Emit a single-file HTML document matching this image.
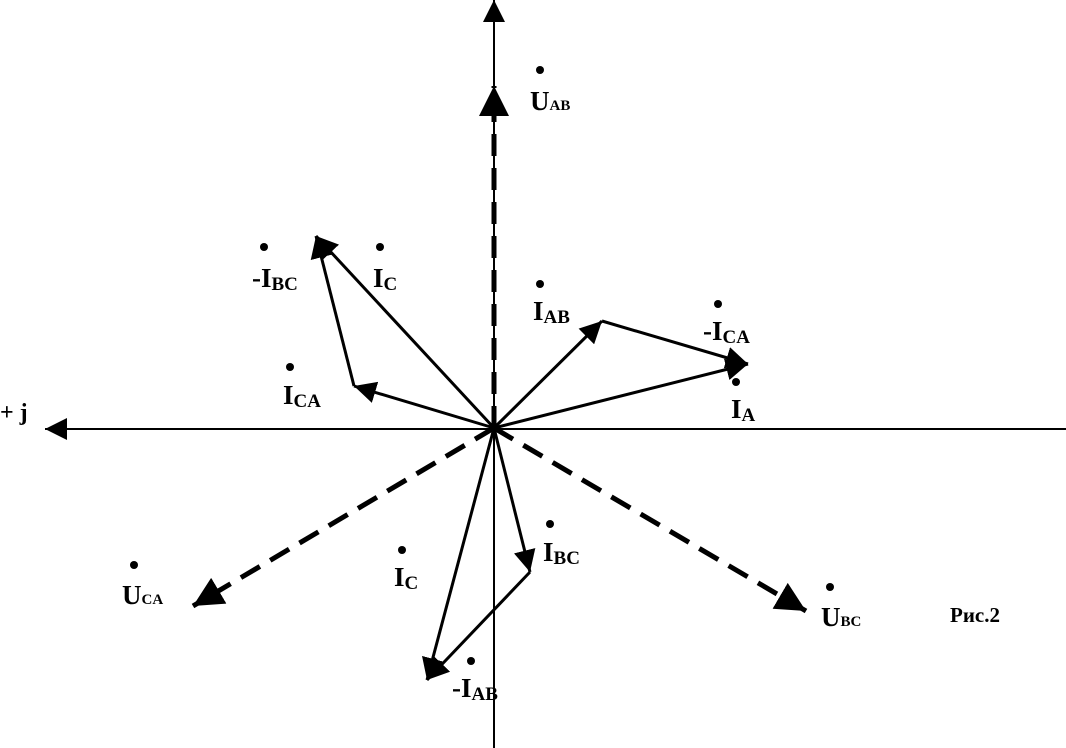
<!DOCTYPE html>
<html><head><meta charset="utf-8"><style>
html,body{margin:0;padding:0;background:#fff;}
svg{display:block;}
text{font-family:"Liberation Serif",serif;font-weight:bold;fill:#000;}
</style></head><body>
<svg width="1066" height="748" viewBox="0 0 1066 748" xmlns="http://www.w3.org/2000/svg">
<defs>
<marker id="a" viewBox="0 0 10 10" refX="10" refY="5" markerWidth="22" markerHeight="22" markerUnits="userSpaceOnUse" orient="auto"><path d="M0,0 L10,5 L0,10 z" fill="#000"/></marker>
<marker id="b" viewBox="0 0 10 10" refX="10" refY="5" markerWidth="30" markerHeight="30" markerUnits="userSpaceOnUse" orient="auto"><path d="M0,0 L10,5 L0,10 z" fill="#000"/></marker>
</defs>
<!-- axes -->
<line x1="1066" y1="429" x2="45" y2="429" stroke="#000" stroke-width="2" marker-end="url(#a)"/>
<line x1="494" y1="748" x2="494" y2="0" stroke="#000" stroke-width="2" marker-end="url(#a)"/>
<text x="0" y="420" font-size="24">+ j</text>
<!-- dashed voltages -->
<g stroke="#000" stroke-width="5" stroke-dasharray="22,12" fill="none">
<line x1="494" y1="428" x2="494" y2="86" marker-end="url(#b)"/>
<line x1="494" y1="428" x2="193" y2="606" marker-end="url(#b)"/>
<line x1="494" y1="428" x2="806" y2="611" marker-end="url(#b)"/>
</g>
<!-- currents -->
<g stroke="#000" stroke-width="3" fill="none">
<line x1="494" y1="428" x2="316" y2="236" marker-end="url(#a)"/>
<line x1="354" y1="386" x2="316" y2="236" marker-end="url(#a)"/>
<line x1="494" y1="428" x2="354" y2="386" marker-end="url(#a)"/>
<line x1="494" y1="428" x2="602" y2="321" marker-end="url(#a)"/>
<line x1="602" y1="321" x2="748" y2="364" marker-end="url(#a)"/>
<line x1="494" y1="428" x2="748" y2="364" marker-end="url(#a)"/>
<line x1="494" y1="428" x2="530" y2="572" marker-end="url(#a)"/>
<line x1="530" y1="572" x2="427" y2="680" marker-end="url(#a)"/>
<line x1="494" y1="428" x2="427" y2="680" marker-end="url(#a)"/>
</g>
<!-- labels -->
<g font-size="27">
<circle cx="540" cy="70" r="4"/><text x="530" y="110">U<tspan font-size="15">AB</tspan></text>
<circle cx="264" cy="247" r="4"/><text x="252" y="287">-I<tspan font-size="19" dy="3">BC</tspan></text>
<circle cx="380" cy="247" r="4"/><text x="373" y="287">I<tspan font-size="19" dy="3">C</tspan></text>
<circle cx="540" cy="284" r="4"/><text x="533" y="320">I<tspan font-size="19" dy="3">AB</tspan></text>
<circle cx="718" cy="304" r="4"/><text x="703" y="340">-I<tspan font-size="19" dy="3">CA</tspan></text>
<circle cx="290" cy="367" r="4"/><text x="283" y="404">I<tspan font-size="19" dy="3">CA</tspan></text>
<circle cx="736" cy="382" r="4"/><text x="731" y="418">I<tspan font-size="19" dy="3">A</tspan></text>
<circle cx="550" cy="524" r="4"/><text x="543" y="561">I<tspan font-size="19" dy="3">BC</tspan></text>
<circle cx="402" cy="550" r="4"/><text x="394" y="586">I<tspan font-size="19" dy="3">C</tspan></text>
<circle cx="134" cy="565" r="4"/><text x="122" y="604">U<tspan font-size="15">CA</tspan></text>
<circle cx="830" cy="587" r="4"/><text x="821" y="626">U<tspan font-size="15">BC</tspan></text>
<circle cx="471" cy="661" r="4"/><text x="452" y="697">-I<tspan font-size="19" dy="3">AB</tspan></text>
<text x="950" y="622" font-size="21">Рис.2</text>
</g>
</svg>
</body></html>
